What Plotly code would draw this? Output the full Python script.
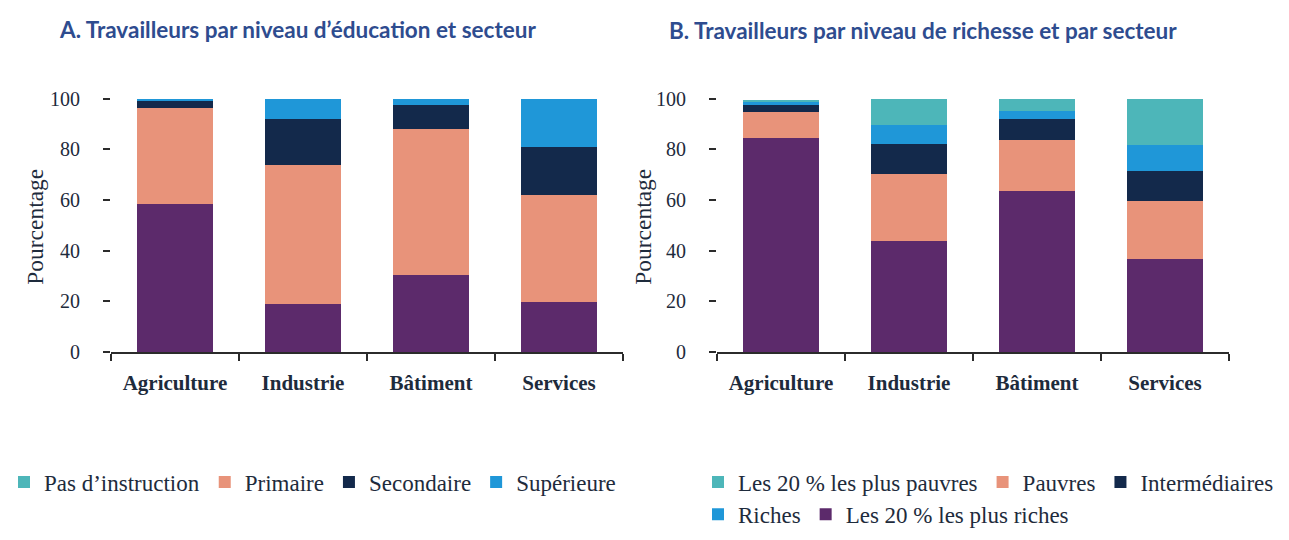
import plotly.graph_objects as go

# secteurs (axe des x, identique pour les deux panneaux)
secteurs = ["Agriculture", "Industrie", "Bâtiment", "Services"]

# Panneau A : niveau d'éducation (%, de bas en haut de la pile)
educ_base = [58.5, 19.0, 30.6, 19.9]
educ_primaire = [38.0, 54.8, 57.4, 42.2]
educ_secondaire = [3.0, 18.2, 9.4, 19.0]
educ_superieure = [0.5, 8.0, 2.6, 18.9]

# Panneau B : niveau de richesse (%, de bas en haut de la pile)
rich_plus_riches = [84.4, 43.8, 63.4, 36.8]
rich_pauvres = [10.3, 26.5, 20.4, 23.0]
rich_intermediaires = [2.7, 12.0, 8.2, 11.7]
rich_riches = [1.6, 7.3, 3.2, 10.2]
rich_plus_pauvres = [0.5, 10.4, 4.8, 18.3]

y_ticks = [0, 20, 40, 60, 80, 100]

PURPLE = "#5C2A6B"
SALMON = "#E8937A"
NAVY = "#13294B"
BLUE = "#1F97D8"
TEAL = "#4DB6B9"

SERIF = "Liberation Serif"
TXT = "#1E2B3C"
TITLE_COL = "#2E4C8F"

W, H = 1289, 540


def px_x(p):
    return p / W


def px_y(p):
    return (H - p) / H


fig = go.Figure()

# --- Panneau A ---
fig.add_trace(go.Bar(x=secteurs, y=educ_base, marker_color=PURPLE,
                     showlegend=False, xaxis="x", yaxis="y"))
fig.add_trace(go.Bar(x=secteurs, y=educ_primaire, marker_color=SALMON,
                     name="Primaire", legend="legend", legendrank=2,
                     xaxis="x", yaxis="y"))
fig.add_trace(go.Bar(x=secteurs, y=educ_secondaire, marker_color=NAVY,
                     name="Secondaire", legend="legend", legendrank=3,
                     xaxis="x", yaxis="y"))
fig.add_trace(go.Bar(x=secteurs, y=educ_superieure, marker_color=BLUE,
                     name="Supérieure", legend="legend", legendrank=4,
                     xaxis="x", yaxis="y"))
# entrée de légende telle qu'elle figure dans l'original
fig.add_trace(go.Bar(x=[None], y=[None], marker_color=TEAL,
                     name="Pas d’instruction", legend="legend", legendrank=1,
                     xaxis="x", yaxis="y"))

# --- Panneau B ---
fig.add_trace(go.Bar(x=secteurs, y=rich_plus_riches, marker_color=PURPLE,
                     name="Les 20 % les plus riches", legend="legend3",
                     legendrank=5, xaxis="x2", yaxis="y2"))
fig.add_trace(go.Bar(x=secteurs, y=rich_pauvres, marker_color=SALMON,
                     name="Pauvres", legend="legend2", legendrank=2,
                     xaxis="x2", yaxis="y2"))
fig.add_trace(go.Bar(x=secteurs, y=rich_intermediaires, marker_color=NAVY,
                     name="Intermédiaires", legend="legend2", legendrank=3,
                     xaxis="x2", yaxis="y2"))
fig.add_trace(go.Bar(x=secteurs, y=rich_riches, marker_color=BLUE,
                     name="Riches", legend="legend3", legendrank=4,
                     xaxis="x2", yaxis="y2"))
fig.add_trace(go.Bar(x=secteurs, y=rich_plus_pauvres, marker_color=TEAL,
                     name="Les 20 % les plus pauvres", legend="legend2",
                     legendrank=1, xaxis="x2", yaxis="y2"))

fig.update_traces(marker_line_width=0, hoverinfo="skip")

xaxis_style = dict(
    type="category",
    range=[-0.5, 3.5],
    tickson="boundaries",
    ticks="outside",
    ticklen=7,
    tickwidth=1.5,
    tickcolor="#2B2B2B",
    showline=True,
    linecolor="#2B2B2B",
    linewidth=1.5,
    showgrid=False,
    zeroline=False,
    ticklabelstandoff=11,
    tickfont=dict(family=SERIF, size=21, color=TXT, weight="bold"),
)
yaxis_style = dict(
    range=[0, 104],
    tickmode="array",
    tickvals=y_ticks,
    ticks="outside",
    ticklen=7,
    tickwidth=1.5,
    tickcolor="#2B2B2B",
    showline=False,
    showgrid=False,
    zeroline=False,
    ticklabelstandoff=19,
    tickfont=dict(family=SERIF, size=20, color=TXT),
    domain=[px_y(359), px_y(359 - 104 * 2.59)],
)

legend_style = dict(
    orientation="h",
    xanchor="left",
    yanchor="middle",
    font=dict(family=SERIF, size=23, color=TXT),
    bgcolor="rgba(0,0,0,0)",
    traceorder="normal",
    itemclick=False,
    itemdoubleclick=False,
)

fig.update_layout(
    width=W,
    height=H,
    margin=dict(l=0, r=0, t=0, b=0),
    paper_bgcolor="white",
    plot_bgcolor="white",
    barmode="stack",
    bargap=0.41,
    xaxis=dict(xaxis_style, domain=[px_x(111), px_x(623)], anchor="y"),
    yaxis=dict(yaxis_style, anchor="x"),
    xaxis2=dict(xaxis_style, domain=[px_x(717), px_x(1229)], anchor="y2"),
    yaxis2=dict(yaxis_style, anchor="x2"),
    legend=dict(legend_style, x=px_x(4), y=px_y(492)),
    legend2=dict(legend_style, x=px_x(698), y=px_y(492)),
    legend3=dict(legend_style, x=px_x(698), y=px_y(525)),
    annotations=[
        dict(text="A. Travailleurs par niveau d’éducation et secteur",
             x=px_x(57), y=px_y(29), xref="paper", yref="paper",
             xanchor="left", yanchor="middle", showarrow=False,
             font=dict(family="Lato", size=22.5, color=TITLE_COL, weight="bold")),
        dict(text="B. Travailleurs par niveau de richesse et par secteur",
             x=px_x(667), y=px_y(30), xref="paper", yref="paper",
             xanchor="left", yanchor="middle", showarrow=False,
             font=dict(family="Lato", size=22.5, color=TITLE_COL, weight="bold")),
        dict(text="Pourcentage", textangle=-90,
             x=px_x(35), y=px_y(231), xref="paper", yref="paper",
             xanchor="center", yanchor="middle", showarrow=False,
             font=dict(family=SERIF, size=23.5, color=TXT)),
        dict(text="Pourcentage", textangle=-90,
             x=px_x(643), y=px_y(231), xref="paper", yref="paper",
             xanchor="center", yanchor="middle", showarrow=False,
             font=dict(family=SERIF, size=23.5, color=TXT)),
    ],
)

# la page fait exactement la taille de la figure (pas de marge du body)
fig.write_html(
    "out.html",
    config={"displayModeBar": False},
    post_script=(
        "document.body.style.margin='0';"
        "document.body.style.overflow='hidden';"
    ),
)
